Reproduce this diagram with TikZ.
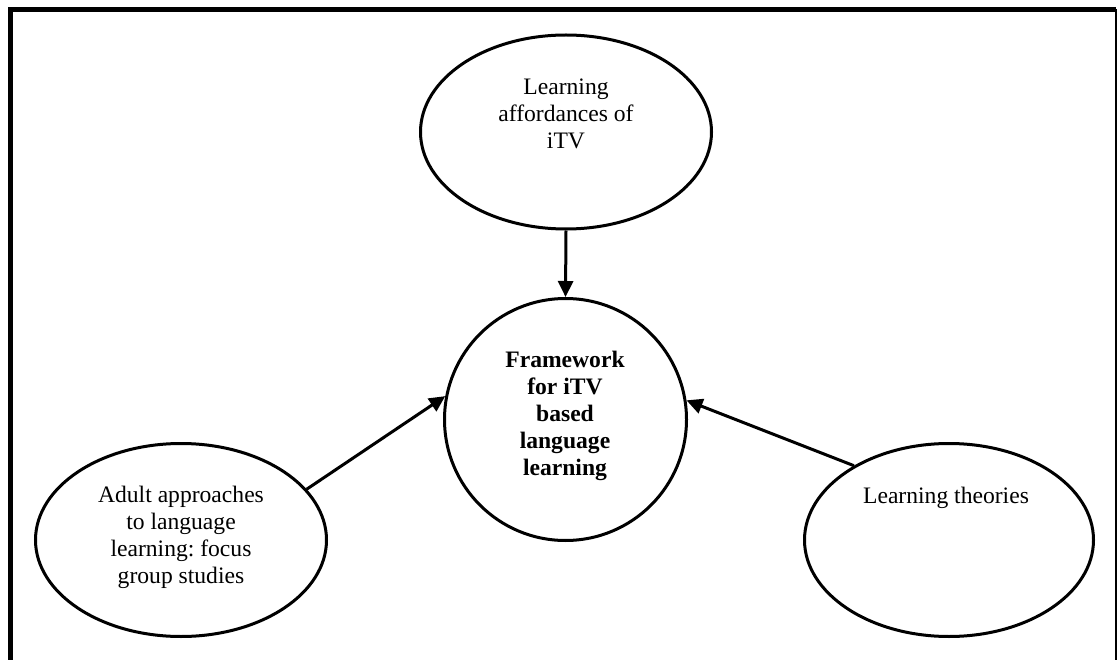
\documentclass[tikz,border=0pt]{standalone}
\usepackage{fontspec}
\setmainfont{Liberation Serif}
\usetikzlibrary{shapes.geometric,arrows.meta}
\frenchspacing

\begin{document}
\begin{tikzpicture}[x=1pt,y=-1pt,
  oval/.style={ellipse,draw,line width=3pt,inner sep=0pt},
  txt/.style={align=center,inner sep=0pt,font=\fontsize{23.6}{27}\selectfont},
  bold/.style={txt,font=\fontsize{23.6}{27}\selectfont\bfseries},
  feed/.style={line width=3pt,-{Triangle[length=16pt,width=15pt]}}]

\useasboundingbox (0,0) rectangle (1119,660);

% outer frame (open at the bottom)
\draw[line width=5pt] (10,660) -- (10,9.5) -- (1116,9.5);
\draw[line width=2pt] (1116,9.5) -- (1116,660);

% ellipses
\node[oval,minimum width=291pt,minimum height=194pt] (itv) at (566,132) {};
\node[oval,minimum width=242pt,minimum height=242pt] (frame) at (565.5,419.5) {};
\node[oval,minimum width=291pt,minimum height=193pt] (adult) at (181,540) {};
\node[oval,minimum width=289pt,minimum height=193pt] (theo) at (949,540) {};

% labels (base anchor = baseline of the last line)
\node[txt,anchor=base] (itvtext) at (566,149) {Learning\\affordances of\\iTV};
\node[bold,anchor=base] (frametext) at (565,475) {Framework\\for iTV\\based\\language\\learning};
\node[txt,anchor=base] (adulttext) at (181,583) {Adult approaches\\to language\\learning: focus\\group studies};
\node[txt,anchor=base] (theotext) at (946,503) {Learning theories};

% connectors
\draw[feed] (itv.south) -- (frame.north);
\draw[feed] (adult.22.7) -- (frame.169.1);
\draw[feed] (theo.142.9) -- (frame.9.9);
\end{tikzpicture}
\end{document}
